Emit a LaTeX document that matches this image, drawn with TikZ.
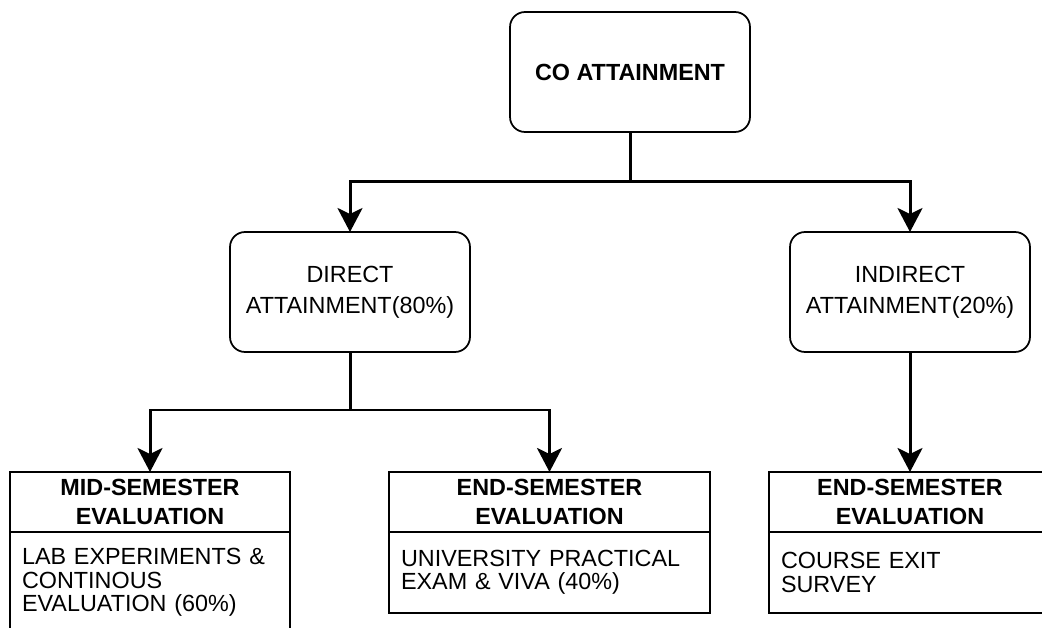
\documentclass[tikz,border=0pt]{standalone}
\usepackage{fontspec}
\setmainfont{Liberation Sans}
\usetikzlibrary{positioning,arrows.meta}
\tikzset{>={Stealth[length=0.48cm,width=0.5cm,inset=0.12cm]}}

\begin{document}
\begin{tikzpicture}[x=0.02cm,y=-0.02cm,
  every node/.style={outer sep=0pt},
  roundbox/.style={draw,line width=0.035cm,rounded corners=0.3cm,minimum width=4.8cm,minimum height=2.4cm,align=center,font=\fontsize{13.3}{17.5}\selectfont},
  titlebox/.style={roundbox,font=\fontsize{13.3}{17.5}\selectfont\bfseries},
  headbox/.style={draw,line width=0.035cm,minimum height=1.2cm,align=center,font=\fontsize{13.3}{16.5}\selectfont\bfseries},
  bodybox/.style={draw,line width=0.035cm,align=left,inner xsep=0.24cm,font=\fontsize{13.3}{13.3}\selectfont},
  link/.style={line width=0.06cm}]
\path[use as bounding box,clip] (0,0) rectangle (1042,628);
\node[titlebox] (co) at (630,72) {CO ATTAINMENT};
\node[roundbox] (direct) at (350,292) {DIRECT\\ATTAINMENT(80\%)};
\node[roundbox] (indirect) at (910,292) {INDIRECT\\ATTAINMENT(20\%)};
\node[headbox,minimum width=5.6cm] (midhead) at (150,502) {MID-SEMESTER\\EVALUATION};
\node[bodybox,text width=5.12cm,minimum height=2.02cm,below=0pt of midhead] (midbody) {LAB EXPERIMENTS \&\\CONTINOUS\\EVALUATION (60\%)};
\node[headbox,minimum width=6.42cm] (endhead) at (549.5,502) {END-SEMESTER\\EVALUATION};
\node[bodybox,text width=5.94cm,minimum height=1.62cm,below=0pt of endhead] (endbody) {UNIVERSITY PRACTICAL\\EXAM \& VIVA (40\%)};
\node[headbox,minimum width=5.64cm] (exithead) at (910,502) {END-SEMESTER\\EVALUATION};
\node[bodybox,text width=5.16cm,minimum height=1.62cm,below=0pt of exithead] (exitbody) {COURSE EXIT\\SURVEY};
\coordinate (cosplit) at (630,182);
\coordinate (dirsplit) at (350,410);
\draw[link] (co.south) -- (cosplit);
\draw[link,->] (cosplit) -| (direct.north);
\draw[link,->] (cosplit) -| (indirect.north);
\draw[link] (direct.south) -- (dirsplit);
\draw[link,->] (dirsplit) -| (midhead.north);
\draw[link,->] (dirsplit) -| (endhead.north);
\draw[link,->] (indirect.south) -- (exithead.north);
\end{tikzpicture}
\end{document}
